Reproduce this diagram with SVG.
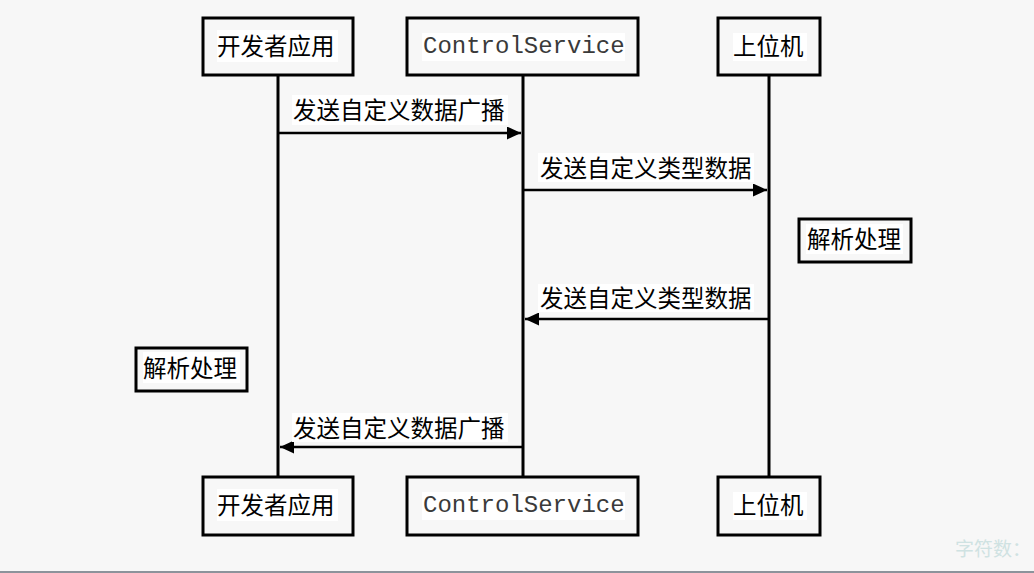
<svg xmlns="http://www.w3.org/2000/svg" width="1034" height="573" viewBox="0 0 1034 573">
<style>
.box{fill:#f7f7f7;stroke:#000;stroke-width:3}
.bg{fill:#fff}
.cjk{font-family:"Noto Sans CJK SC","Noto Sans",sans-serif;font-size:23.5px;fill:#000}
.mono{font-family:"Liberation Mono","DejaVu Sans Mono",monospace;font-size:24px;fill:#3a3a3a}
.life{stroke:#000;stroke-width:3}
.msg{stroke:#000;stroke-width:2.5;fill:none;marker-end:url(#ah)}
</style>
<defs>
<marker id="ah" markerUnits="userSpaceOnUse" markerWidth="14" markerHeight="13" refX="14" refY="6.5" orient="auto">
<path d="M0,0 L14,6.5 L0,13 Z" fill="#000"/>
</marker>
</defs>
<rect width="1034" height="573" fill="#f7f7f7"/>
<g id="connectors">
<line class="life" x1="278" y1="75" x2="278" y2="477"/>
<line class="life" x1="523" y1="75" x2="523" y2="477"/>
<line class="life" x1="769" y1="75" x2="769" y2="477"/>
<line class="msg" x1="278" y1="133" x2="521" y2="133"/>
<line class="msg" x1="523" y1="190" x2="767" y2="190"/>
<line class="msg" x1="769" y1="319" x2="525" y2="319"/>
<line class="msg" x1="523" y1="447" x2="280" y2="447"/>
<rect class="bg" x="292" y="95" width="216" height="30"/>
<text class="cjk" x="293" y="119">发送自定义数据广播</text>
<rect class="bg" x="538" y="153" width="216" height="29"/>
<text class="cjk" x="540" y="177">发送自定义类型数据</text>
<rect class="bg" x="538" y="284" width="216" height="28"/>
<text class="cjk" x="540" y="307">发送自定义类型数据</text>
<rect class="bg" x="292" y="413" width="216" height="29"/>
<text class="cjk" x="293" y="437">发送自定义数据广播</text>
</g>
<g id="dev-top">
<rect class="box" x="203" y="18" width="150" height="57"/>
<rect class="bg" x="217" y="30" width="121" height="32"/>
<text class="cjk" x="217" y="55">开发者应用</text>
</g>
<g id="cs-top">
<rect class="box" x="407" y="18" width="231" height="57"/>
<rect class="bg" x="422" y="33" width="203" height="28"/>
<text class="mono" x="423" y="53">ControlService</text>
</g>
<g id="host-top">
<rect class="box" x="718" y="18" width="102" height="57"/>
<rect class="bg" x="733" y="33" width="74" height="28"/>
<text class="cjk" x="733" y="55">上位机</text>
</g>
<g id="parse-host">
<rect class="box" x="799" y="219" width="112" height="43"/>
<rect class="bg" x="806" y="224" width="97" height="30"/>
<text class="cjk" x="807" y="248">解析处理</text>
</g>
<g id="parse-dev">
<rect class="box" x="136" y="348" width="111" height="43"/>
<rect class="bg" x="143" y="352" width="97" height="31"/>
<text class="cjk" x="143" y="377">解析处理</text>
</g>
<g id="dev-bottom">
<rect class="box" x="203" y="477" width="150" height="58"/>
<rect class="bg" x="217" y="489" width="121" height="32"/>
<text class="cjk" x="217" y="514">开发者应用</text>
</g>
<g id="cs-bottom">
<rect class="box" x="407" y="477" width="231" height="58"/>
<rect class="bg" x="422" y="492" width="203" height="28"/>
<text class="mono" x="423" y="512">ControlService</text>
</g>
<g id="host-bottom">
<rect class="box" x="718" y="477" width="102" height="58"/>
<rect class="bg" x="733" y="492" width="74" height="28"/>
<text class="cjk" x="733" y="514">上位机</text>
</g>
<text x="955" y="556" font-family="Noto Sans CJK SC, sans-serif" font-size="19" fill="#cfe2e2">字符数：</text>
<rect x="0" y="571" width="1034" height="2" fill="#8c939b"/>
</svg>
